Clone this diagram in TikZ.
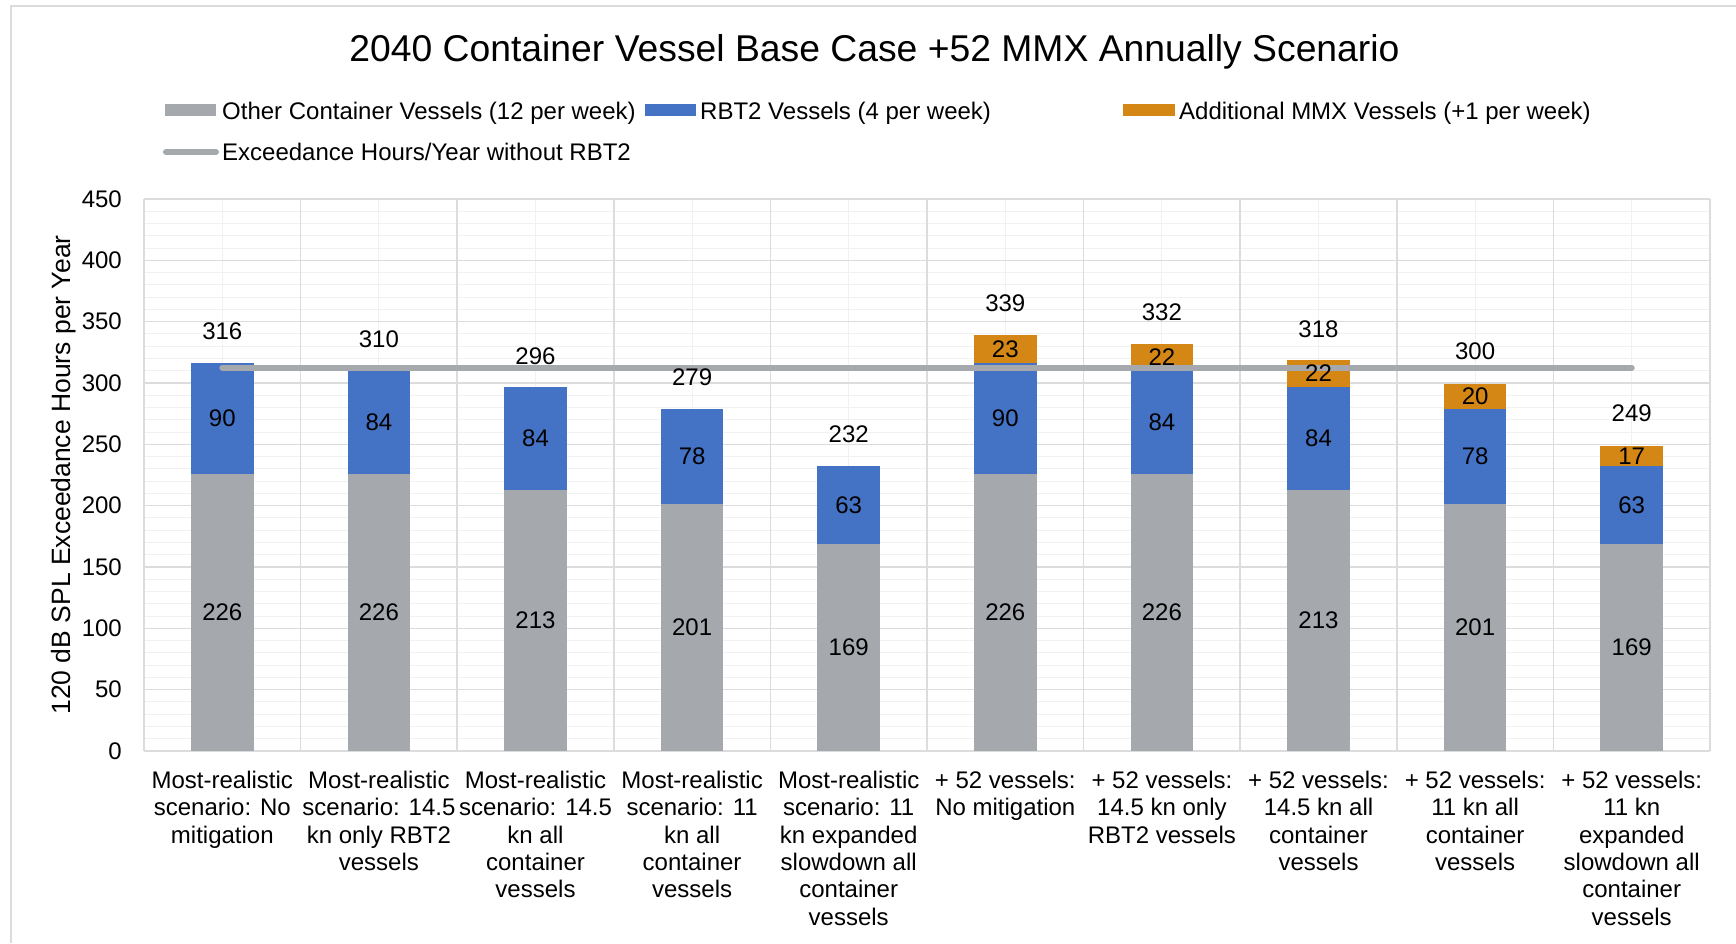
\documentclass[tikz,border=0pt]{standalone}
\usepackage{fontspec}
\setmainfont{Liberation Sans}

\definecolor{othergray}{RGB}{165,168,173}
\definecolor{rbtblue}{RGB}{68,114,196}
\definecolor{mmxorange}{RGB}{212,135,20}
\definecolor{gridmajor}{RGB}{220,220,220}
\definecolor{gridminor}{RGB}{241,241,241}

\tikzset{
  valtext/.style={font=\fontsize{24}{27}\selectfont, inner sep=0pt},
  cattext/.style={font=\fontsize{24}{27.3}\selectfont, align=center, anchor=north, inner sep=0pt},
  exline/.style={othergray, line width=6pt, line cap=round},
}

\begin{document}
\begin{tikzpicture}[x=1pt,y=-1pt]
    \useasboundingbox (0,0) rectangle (1736,943);

    % Chart frame
    \draw[gridmajor, line width=2pt] (11,943) -- (11,6) -- (1736,6);

    % Title
    \node[anchor=base, inner sep=0pt, font=\fontsize{37.3}{41}\selectfont] (title) at (874.5,61)
        {2040 Container Vessel Base Case +52 MMX Annually Scenario};

    % Legend
    \fill[othergray] (165,104) rectangle (216,116);
    \node[valtext, anchor=base west] (leg-other) at (222,119) {Other Container Vessels (12 per week)};
    \fill[rbtblue] (645,104) rectangle (696,116);
    \node[valtext, anchor=base west] (leg-rbt) at (700,119) {RBT2 Vessels (4 per week)};
    \fill[mmxorange] (1123,104) rectangle (1175,116);
    \node[valtext, anchor=base west] (leg-mmx) at (1179,119) {Additional MMX Vessels (+1 per week)};
    \coordinate (leg-la) at (166,152);
    \coordinate (leg-lb) at (216,152);
    \draw[exline] (leg-la) -- (leg-lb);
    \node[valtext, anchor=base west] (leg-ex) at (222,160) {Exceedance Hours/Year without RBT2};

    % Minor grid
    \foreach \v in {10,20,...,440}
        \draw[gridminor, line width=1pt] (144,{751-1.22667*\v}) -- (1710,{751-1.22667*\v});
    \foreach \k in {0,...,9}
        \draw[gridminor, line width=1pt] ({144+(\k+0.5)*156.6},199) -- ({144+(\k+0.5)*156.6},751);

    % Major grid
    \foreach \v in {0,50,...,450} {
        \draw[gridmajor, line width=1.5pt] (144,{751-1.22667*\v}) -- (1710,{751-1.22667*\v});
        \node[valtext, anchor=east] (tick-\v) at (122,{751-1.22667*\v}) {\v};
    }
    \foreach \k in {0,...,10}
        \draw[gridmajor, line width=1.5pt] ({144+\k*156.6},199) -- ({144+\k*156.6},751);

    % Axis title
    \node[font=\fontsize{26.5}{30}\selectfont, rotate=90, anchor=base, inner sep=0pt] (ytitle) at (70,475)
        {120 dB SPL Exceedance Hours per Year};

    % Stacked bars: other / RBT2 / MMX
    \foreach \i/\a/\b/\c in {1/226/90/0, 2/226/84/0, 3/213/84/0, 4/201/78/0, 5/169/63/0,
        6/226/90/23, 7/226/84/22, 8/213/84/22, 9/201/78/20, 10/169/63/17} {
        \pgfmathsetmacro{\cx}{144+(\i-0.5)*156.6}
        \pgfmathsetmacro{\ya}{751-1.22667*\a}
        \pgfmathsetmacro{\yb}{751-1.22667*(\a+\b)}
        \pgfmathsetmacro{\yc}{751-1.22667*(\a+\b+\c)}
        \fill[othergray] (\cx-31.3,751) rectangle (\cx+31.3,\ya);
        \fill[rbtblue] (\cx-31.3,\ya) rectangle (\cx+31.3,\yb);
        \ifnum\c>0
            \fill[mmxorange] (\cx-31.3,\yb) rectangle (\cx+31.3,\yc);
        \fi
    }

    % Exceedance line
    \coordinate (ex-a) at (222.3,{751-1.22667*312.5});
    \coordinate (ex-b) at (1631.7,{751-1.22667*312.5});
    \draw[exline] (ex-a) -- (ex-b);

    % Data labels
    \foreach \i/\a/\b/\c/\t in {1/226/90/0/316, 2/226/84/0/310, 3/213/84/0/296, 4/201/78/0/279,
        5/169/63/0/232, 6/226/90/23/339, 7/226/84/22/332, 8/213/84/22/318, 9/201/78/20/300, 10/169/63/17/249} {
        \pgfmathsetmacro{\cx}{144+(\i-0.5)*156.6}
        \pgfmathsetmacro{\ya}{751-1.22667*\a}
        \pgfmathsetmacro{\yb}{751-1.22667*(\a+\b)}
        \pgfmathsetmacro{\yc}{751-1.22667*(\a+\b+\c)}
        \ifnum\c>0
            \node[valtext] (mmx-\i) at (\cx,{(\yb+\yc)/2}) {\c};
        \fi
        \node[valtext] (other-\i) at (\cx,{(751+\ya)/2}) {\a};
        \node[valtext] (rbt-\i) at (\cx,{(\ya+\yb)/2}) {\b};
        \node[valtext] (total-\i) at (\cx,{751-1.22667*\t-32}) {\t};
    }

    % Category labels
    \foreach \i/\txt in {1/{Most-realistic\\scenario: No\\mitigation},
        2/{Most-realistic\\scenario: 14.5\\kn only RBT2\\vessels},
        3/{Most-realistic\\scenario: 14.5\\kn all\\container\\vessels},
        4/{Most-realistic\\scenario: 11\\kn all\\container\\vessels},
        5/{Most-realistic\\scenario: 11\\kn expanded\\slowdown all\\container\\vessels},
        6/{+ 52 vessels:\\No mitigation},
        7/{+ 52 vessels:\\14.5 kn only\\RBT2 vessels},
        8/{+ 52 vessels:\\14.5 kn all\\container\\vessels},
        9/{+ 52 vessels:\\11 kn all\\container\\vessels},
        10/{+ 52 vessels:\\11 kn\\expanded\\slowdown all\\container\\vessels}}
        \node[cattext] (cat-\i) at ({144+(\i-0.5)*156.6},771) {\txt};
\end{tikzpicture}
\end{document}
